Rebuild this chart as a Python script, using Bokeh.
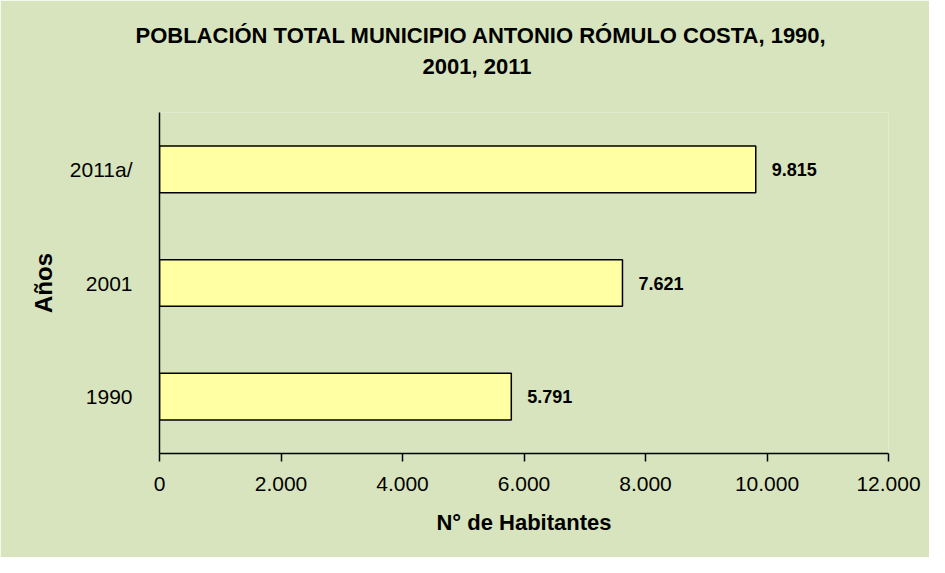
from bokeh.plotting import figure
from bokeh.models import ColumnDataSource, FactorRange, Range1d, FixedTicker, Title
from bokeh.core.properties import value
from bokeh.embed import file_html
from bokeh.resources import INLINE

years = ["1990", "2001", "2011a/"]
population = [5791, 7621, 9815]
x_ticks = [0, 2000, 4000, 6000, 8000, 10000, 12000]
title_line1 = "POBLACIÓN TOTAL MUNICIPIO ANTONIO RÓMULO COSTA, 1990,"
title_line2 = "2001, 2011"
x_label = "N° de Habitantes"
y_label = "Años"

def fmt(v):
    return f"{v:,}".replace(",", ".")

BG = "#D7E4BD"
FONT = "Liberation Sans"

source = ColumnDataSource(dict(year=years, pop=population, label=[fmt(v) for v in population]))

p = figure(width=929, height=557, output_backend="svg", toolbar_location=None,
           y_range=FactorRange(factors=years, range_padding=0),
           x_range=Range1d(0, 12000),
           min_border_left=159, min_border_right=41, min_border_top=112, min_border_bottom=104)
p.background_fill_color = BG
p.border_fill_color = BG
p.outline_line_color = None
p.grid.visible = False

p.hbar(y="year", right="pop", left=0, height=0.41, source=source,
       fill_color="#FFFFA3", line_color="black", line_width=1.5)
p.text(x="pop", y="year", text="label", source=source, x_offset=16,
       text_font=value(FONT), text_font_size="18px", text_font_style="bold",
       text_baseline="middle", text_align="left", text_color="black")

xa = p.xaxis[0]
xa.ticker = FixedTicker(ticks=x_ticks)
xa.major_label_overrides = {t: fmt(t) for t in x_ticks}
xa.major_label_text_font = FONT
xa.major_label_text_font_size = "21px"
xa.major_label_text_color = "black"
xa.major_label_standoff = 15
xa.major_tick_out = 8
xa.major_tick_in = 0
xa.minor_tick_out = 0
xa.minor_tick_in = 0
xa.axis_line_color = "black"
xa.axis_line_width = 1.5
xa.major_tick_line_width = 1.5
xa.axis_label = x_label
xa.axis_label_text_font = FONT
xa.axis_label_text_font_size = "22px"
xa.axis_label_text_font_style = "bold"
xa.axis_label_text_color = "black"
xa.axis_label_standoff = 16

ya = p.yaxis[0]
ya.major_label_text_font = FONT
ya.major_label_text_font_size = "21px"
ya.major_label_text_color = "black"
ya.major_label_standoff = 27
ya.major_tick_out = 0
ya.major_tick_in = 0
ya.axis_line_color = "black"
ya.axis_line_width = 1.5
ya.axis_label = y_label
ya.axis_label_text_font = FONT
ya.axis_label_text_font_size = "24px"
ya.axis_label_text_font_style = "bold"
ya.axis_label_text_color = "black"
ya.axis_label_standoff = 10

# title lines: the one added first sits nearest the frame; a blank spacer keeps them up
title_style = dict(text_font=FONT, text_font_size="22px", text_font_style="bold", text_color="black")
p.add_layout(Title(text=" ", align="left", standoff=4, **title_style), "above")
p.add_layout(Title(text=title_line2, align="left", offset=263, standoff=6, **title_style), "above")
p.add_layout(Title(text=title_line1, align="left", offset=-24, standoff=2, **title_style), "above")

open("out.html", "w").write(file_html(p, INLINE))
